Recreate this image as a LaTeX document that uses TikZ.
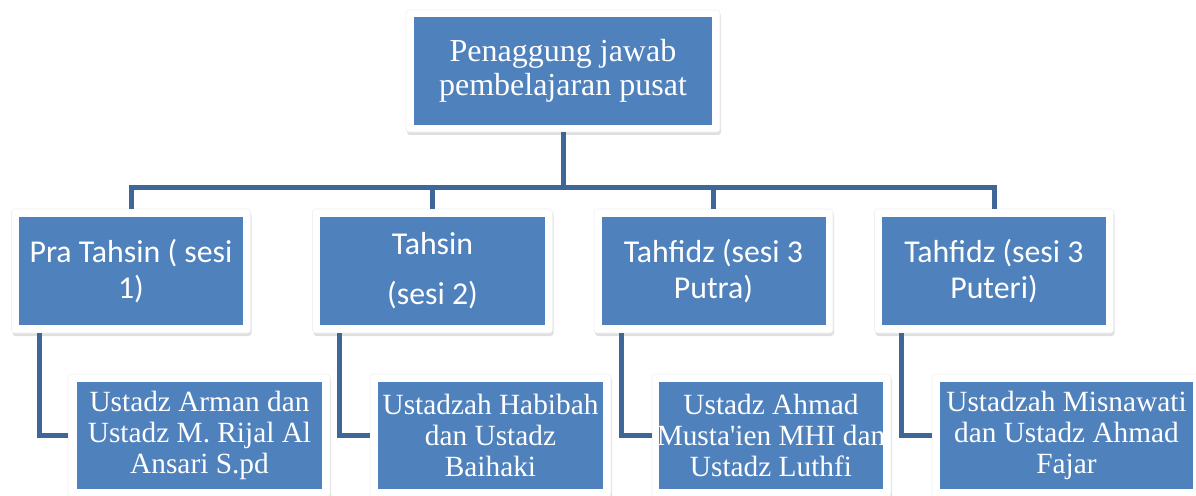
\documentclass[tikz,border=0pt]{standalone}
\usepackage{fontspec}
\setmainfont{Liberation Serif}
\newfontfamily\carlito{Carlito}
\usetikzlibrary{shadows}

\newlength{\du}
\setlength{\du}{0.6pt}

\definecolor{boxblue}{RGB}{79,129,189}
\definecolor{linkblue}{RGB}{62,102,152}

\tikzset{
  boxframe/.style={fill=white, draw=black!6, line width=0.6\du, rounded corners=3\du, inner sep=0pt,
    drop shadow={shadow xshift=1\du, shadow yshift=-3\du, opacity=0.25}},
  bluebox/.style={fill=boxblue, text=white, inner sep=0pt, align=center},
  topbox/.style={bluebox, minimum width=298\du, minimum height=108\du,
    font=\fontsize{19.2pt}{20.2pt}\selectfont},
  midbox/.style={bluebox, minimum width=224\du, minimum height=108\du,
    font=\carlito\fontsize{19.1pt}{21.6pt}\selectfont},
  lowbox/.style={bluebox, minimum height=107\du,
    font=\fontsize{17.6pt}{18.6pt}\selectfont},
  connector/.style={draw=linkblue, line width=5\du}
}

\begin{document}
\begin{tikzpicture}
\pgftransformxscale{1.000000}
\pgftransformyscale{-1.000000}
\useasboundingbox (0\du,0\du) rectangle (1196\du,496\du);
% top box
\node[boxframe, minimum width=314\du, minimum height=122\du] (pusatF) at (563\du,71\du) {};
\node[topbox] (pusat) at (563\du,71\du) {Penaggung jawab\\pembelajaran pusat};
% sessions
\node[boxframe, minimum width=239\du, minimum height=124\du] (praF) at (131\du,271\du) {};
\node[midbox] (pra) at (131\du,271\du) {Pra Tahsin ( sesi\\1)};
\node[boxframe, minimum width=240\du, minimum height=124\du] (tahsinF) at (432.5\du,271\du) {};
\node[midbox, minimum width=225\du] (tahsin) at (432.5\du,271\du) {Tahsin\\[8.5pt](sesi 2)};
\node[boxframe, minimum width=239\du, minimum height=124\du] (putraF) at (713.5\du,271\du) {};
\node[midbox] (putra) at (713.5\du,271\du) {Tahfidz (sesi 3\\Putra)};
\node[boxframe, minimum width=239\du, minimum height=124\du] (puteriF) at (994\du,271\du) {};
\node[midbox] (puteri) at (994\du,271\du) {Tahfidz (sesi 3\\Puteri)};
% teachers
\node[boxframe, minimum width=262\du, minimum height=123\du] (armanF) at (199\du,435.5\du) {};
\node[lowbox, minimum width=245\du] (arman) at (199.5\du,435.5\du) {Ustadz Arman dan\\Ustadz M. Rijal Al\\Ansari S.pd};
\node[boxframe, minimum width=241\du, minimum height=123\du] (habibahF) at (490.5\du,435.5\du) {};
\node[lowbox, minimum width=225\du] (habibah) at (490.5\du,435.5\du) {Ustadzah Habibah\\dan Ustadz\\Baihaki};
\node[boxframe, minimum width=239\du, minimum height=123\du] (ahmadF) at (771.5\du,435.5\du) {};
\node[lowbox, minimum width=224\du] (ahmad) at (771\du,435.5\du) {Ustadz Ahmad\\\makebox[224\du]{Musta\textquotesingle ien MHI dan}\\Ustadz Luthfi};
\node[boxframe, minimum width=269\du, minimum height=123\du] (misnawatiF) at (1066.5\du,435.5\du) {};
\node[lowbox, minimum width=253\du] (misnawati) at (1066.5\du,435.5\du) {Ustadzah Misnawati\\dan Ustadz Ahmad\\Fajar};
% connectors
\coordinate (bar) at (563\du,188\du);
\draw[connector] (pusatF.south) -- (bar);
\draw[connector] (praF.north) |- (bar) -| (puteriF.north);
\draw[connector] (tahsinF.north) -- (tahsinF.north |- bar);
\draw[connector] (putraF.north) -- (putraF.north |- bar);
\draw[connector] ([xshift=28\du]praF.south west) |- (armanF.west);
\draw[connector] ([xshift=27\du]tahsinF.south west) |- (habibahF.west);
\draw[connector] ([xshift=28\du]putraF.south west) |- (ahmadF.west);
\draw[connector] ([xshift=27\du]puteriF.south west) |- (misnawatiF.west);
\end{tikzpicture}
\end{document}
